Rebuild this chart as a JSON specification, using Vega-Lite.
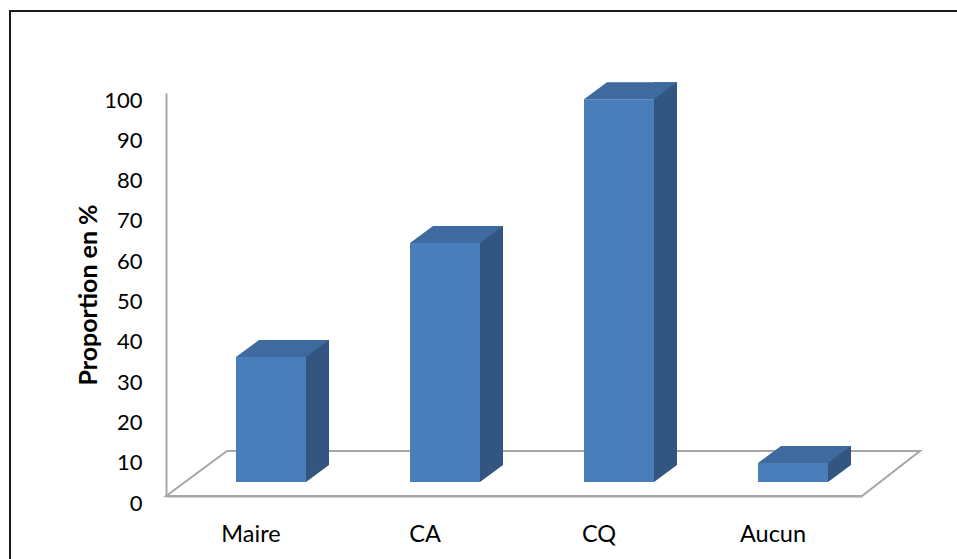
{
  "$schema": "https://vega.github.io/schema/vega-lite/v6.json",
  "width": 696,
  "height": 403,
  "autosize": {"type": "none"},
  "padding": {"left": 166, "top": 93, "right": 95, "bottom": 63},
  "background": "white",
  "config": {
    "view": {"stroke": null},
    "axis": {"labelFont": "Lato", "labelFontSize": 22, "labelColor": "#000000", "titleFont": "Lato", "titleColor": "#000000", "grid": false, "ticks": false, "domainColor": "#a6a6a6", "domainWidth": 2}
  },
  "datasets": {
    "bars": [
      {"categorie": "Maire", "proportion": 31},
      {"categorie": "CA", "proportion": 59.3},
      {"categorie": "CQ", "proportion": 95},
      {"categorie": "Aucun", "proportion": 4.7}
    ]
  },
  "data": {"name": "bars"},
  "encoding": {
    "x": {
      "field": "categorie", "type": "nominal", "sort": null,
      "scale": {"paddingInner": 0.6, "paddingOuter": 0.3},
      "axis": {"title": null, "labelAngle": 0, "labelPadding": 26, "labelFontSize": 23.5, "labelOffset": -2}
    }
  },
  "layer": [
    {
      "data": {"values": [{"piece": "cadre"}]},
      "mark": {"type": "point", "shape": "M-243,63 L-243,-485 L704,-485", "size": 4, "filled": false, "stroke": "#1a1a1a", "strokeWidth": 2, "opacity": 1},
      "encoding": {"x": {"datum": "Maire"}, "y": {"datum": 0, "type": "quantitative"}}
    },
    {
      "data": {"values": [{"piece": "sol"}]},
      "mark": {"type": "point", "shape": "M-87,0 L-26,-45 L667,-45 L609,0 Z", "size": 4, "filled": false, "stroke": "#a6a6a6", "strokeWidth": 2, "opacity": 1},
      "encoding": {"x": {"datum": "Maire"}, "y": {"datum": 0, "type": "quantitative"}}
    },
    {
      "mark": {"type": "bar", "width": 23, "xOffset": 64.5, "yOffset": -31, "y2Offset": -14, "color": "#32567f"},
      "encoding": {
        "y": {
          "field": "proportion", "type": "quantitative",
          "scale": {"domain": [0, 100], "nice": false},
          "axis": {"values": [0, 10, 20, 30, 40, 50, 60, 70, 80, 90, 100], "labelPadding": 24, "labelOffset": 7, "title": "Proportion en %", "titleFontSize": 25, "titleFontWeight": "bold", "titlePadding": 2}
        },
        "y2": {"datum": 0}
      }
    },
    {
      "mark": {"type": "point", "shape": "M35,0 L58,0 L58,-17 Z", "size": 4, "filled": true, "color": "#ffffff", "opacity": 1, "xOffset": 18, "yOffset": -14},
      "encoding": {"y": {"datum": 0, "type": "quantitative"}}
    },
    {
      "mark": {"type": "bar", "width": 70, "xOffset": 18, "yOffset": -14, "y2Offset": -14, "color": "#4a7ebb"},
      "encoding": {
        "y": {"field": "proportion", "type": "quantitative"},
        "y2": {"datum": 0}
      }
    },
    {
      "mark": {"type": "point", "shape": "M-35,0 L35,0 L58,-17 L-12,-17 Z", "size": 4, "filled": true, "color": "#3e6a9f", "opacity": 1, "xOffset": 18, "yOffset": -14},
      "encoding": {"y": {"field": "proportion", "type": "quantitative"}}
    }
  ]
}
